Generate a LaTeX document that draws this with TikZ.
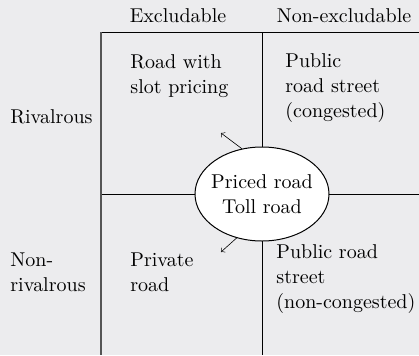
\documentclass[tikz,border=0pt]{standalone}
\usepackage{tikz}
\usetikzlibrary{shapes.geometric}
\definecolor{paper}{HTML}{ECECEE}
\definecolor{edge}{HTML}{555555}

\begin{document}
\begin{tikzpicture} [x=0.5pt, y=-0.5pt, align=left,
    font=\fontsize{10}{12.5}\selectfont,
    txt/.style={anchor=west, inner sep=0pt},
    rule/.style={line width=0.5pt, black},
    tollbox/.style={ellipse, draw, fill=white, line width=0.5pt,
      minimum width=67pt, minimum height=47pt, inner sep=0pt}]
  \fill [paper] (0,0) rectangle (419,355);
  \useasboundingbox (0,0) rectangle (419,355);
  % grid corners
  \coordinate (TL) at (101,32);
  \coordinate (TM) at (263,32);
  \coordinate (TR) at (419,32);
  \coordinate (ML) at (101,194);
  \coordinate (MR) at (419,194);
  \coordinate (BL) at (101,355);
  \coordinate (BM) at (263,355);
  \path  (178,16)   node(Exc)  {Excludable}
         (344,16)   node(NonExc) {Non-excludable}
         (10,117)   node[txt](Riv) {Rivalrous}
         (10,272)   node[txt](NonRiv) {Non-\\rivalrous}
         (130,76)   node[txt](Slot) {Road with\\slot pricing}
         (285,88)   node[txt](PubCong) {Public\\road street\\(congested)}
         (130,272)  node[txt](Priv) {Private\\road}
         (276,279)  node[txt](PubFree) {Public road\\street\\(non-congested)};
  \draw [rule] (TL) -- (TR);
  \draw [rule] (TM) -- (BM);
  \draw [rule] (ML) -- (MR);
  \draw [line width=1pt, edge] (TL) -- (BL);
  \node [tollbox] (Toll) at (262,194) {};
  \node [align=center] (TollText) at (Toll.center) {Priced road\\Toll road};
  \coordinate (Up) at (221,133);
  \coordinate (Down) at (221,252);
  \draw [->, line width=0.3pt] (Toll.114) to (Up);
  \draw [->, line width=0.3pt] (Toll.240) to (Down);
\end{tikzpicture}
\end{document}
